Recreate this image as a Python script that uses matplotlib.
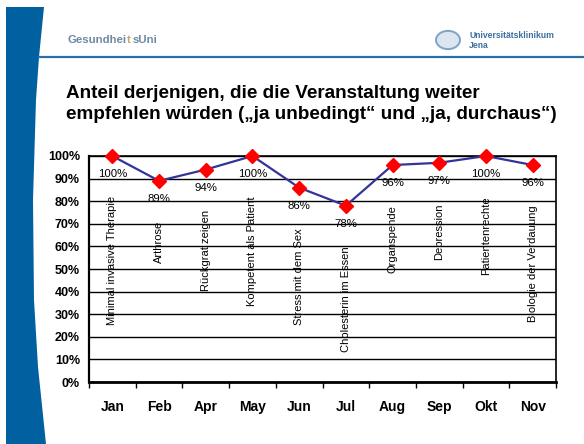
import matplotlib.pyplot as plt
from matplotlib.patches import Polygon, Circle

months = ["Jan", "Feb", "Apr", "May", "Jun", "Jul", "Aug", "Sep", "Okt", "Nov"]
topics = [
    "Minimal invasive Therapie",
    "Arthrose",
    "Rückgrat zeigen",
    "Kompetent als Patient",
    "Stress mit dem Sex",
    "Cholesterin im Essen",
    "Organspende",
    "Depression",
    "Patientenrechte",
    "Biologie der Verdauung",
]
share = [100, 89, 94, 100, 86, 78, 96, 97, 100, 96]
yticks = list(range(0, 101, 10))

W, H = 584, 444
plt.rcParams["font.family"] = ["Liberation Sans", "DejaVu Sans"]

fig = plt.figure(figsize=(W / 100, H / 100), dpi=100)


def px(x, y):
    # pixel coords (top-left origin) -> figure fraction
    return x / W, 1 - y / H


# slide decoration: blue band on the left
band = [(6, 7), (44, 7), (39, 57), (36, 100), (33, 200), (34, 300), (38, 367), (46, 444), (6, 444)]
fig.patches.append(Polygon([px(x, y) for x, y in band], closed=True, transform=fig.transFigure,
                           facecolor="#0060a0", edgecolor="none"))
fig.add_artist(plt.Line2D([39 / W, 1], [1 - 57 / H] * 2, color="#2a6fa8", lw=1.6))

# logos (text stand-ins)
fig.text(*px(68, 40), "Gesundhei", color="#6d8aa3", fontsize=8.2, fontweight="bold", va="center")
fig.text(*px(127, 40), "t", color="#c9a070", fontsize=8.2, fontweight="bold", va="center")
fig.text(*px(133, 40), "sUni", color="#6d8aa3", fontsize=8.2, fontweight="bold", va="center")
fig.patches.append(Circle(px(448, 40), 12 / W, transform=fig.transFigure,
                          facecolor="#dbe6f0", edgecolor="#7fa3c4", lw=1.4))
fig.text(*px(469, 35), "Universitätsklinikum", color="#3b6f9f", fontsize=6.2, fontweight="bold", va="center")
fig.text(*px(469, 45), "Jena", color="#3b6f9f", fontsize=6.2, fontweight="bold", va="center")

# title
fig.text(*px(66, 104), "Anteil derjenigen, die die Veranstaltung weiter\n"
         "empfehlen würden („ja unbedingt“ und „ja, durchaus“)",
         fontsize=13.6, fontweight="bold", va="center", ha="left", linespacing=1.3)

l, b = px(89, 382)
r, t = px(556, 156)
ax = fig.add_axes([l, b, r - l, t - b])

x = list(range(len(months)))
ax.plot(x, share, color="#333399", lw=1.6, marker="D", markersize=7,
        markerfacecolor="#ff0000", markeredgecolor="#ff0000", zorder=3, clip_on=False)

for xi, v, name in zip(x, share, topics):
    ax.annotate(f"{v}%", (xi, v), xytext=(0, -13), textcoords="offset points",
                ha="center", va="center", fontsize=8.2)
    ax.annotate(name, (xi, v), xytext=(0, -29), textcoords="offset points",
                ha="center", va="top", rotation=90, fontsize=8.0)

ax.set_xlim(-0.5, len(months) - 0.5)
ax.set_ylim(0, 100)
ax.set_yticks(yticks)
ax.set_yticklabels([f"{v}%" for v in yticks], fontsize=9, fontweight="bold")
ax.yaxis.grid(True, color="black", lw=1.0)
ax.set_axisbelow(True)

ax.set_xticks(x)
ax.set_xticklabels(months, fontsize=10, fontweight="bold")
ax.tick_params(axis="x", which="major", length=0, pad=13)
ax.set_xticks([i - 0.5 for i in range(len(months) + 1)], minor=True)
ax.tick_params(axis="x", which="minor", length=4, width=1)
ax.tick_params(axis="y", length=0, pad=6.5)

for s in ax.spines.values():
    s.set_linewidth(1.2)
ax.spines["bottom"].set_linewidth(2)
ax.spines["left"].set_linewidth(1.6)

fig.savefig("out.png", dpi=100)
